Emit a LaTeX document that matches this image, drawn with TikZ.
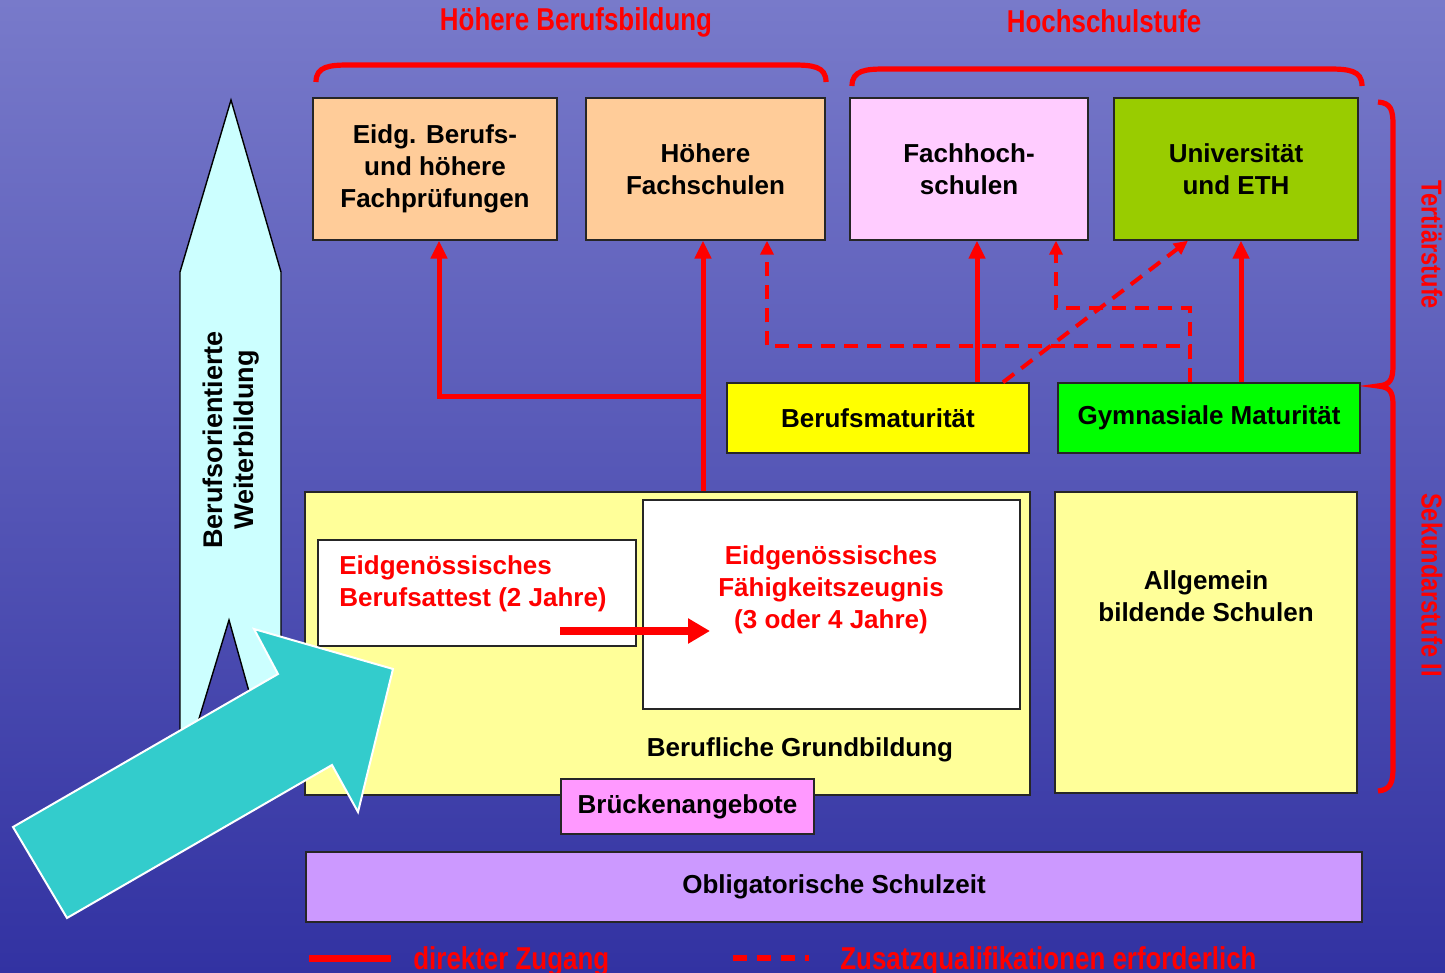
\documentclass[tikz,border=0pt]{standalone}
\usepackage{fontspec}
\setmainfont{Liberation Sans}
\usetikzlibrary{arrows.meta}
\definecolor{peach}{HTML}{FFCC99}
\definecolor{pinkbox}{HTML}{FFCCFF}
\definecolor{unigreen}{HTML}{99CC00}
\definecolor{bmyellow}{HTML}{FFFF00}
\definecolor{gmgreen}{HTML}{00FF00}
\definecolor{paleyellow}{HTML}{FFFF99}
\definecolor{bridgepink}{HTML}{FF99FF}
\definecolor{lilac}{HTML}{CC99FF}
\definecolor{palecyan}{HTML}{CCFFFF}
\definecolor{teal}{HTML}{33CCCC}
\definecolor{skytop}{RGB}{120,122,202}
\definecolor{skymid}{RGB}{76,78,184}
\definecolor{skybot}{RGB}{50,50,162}
\newcommand{\narrowtext}[1]{\scalebox{0.82}[1]{#1}}
\tikzset{box/.style = {shape=rectangle,draw=black!85,line width=0.7pt,inner sep=0pt,align=center,font=\bfseries\fontsize{13}{16}\selectfont}}
\tikzset{boxtext/.style = {align=center,inner sep=0pt,font=\bfseries\fontsize{13}{16}\selectfont}}
\tikzset{direct/.style = {draw=red,line width=2.5pt,-{Triangle[width=8pt,length=9pt]}}}
\tikzset{extra/.style = {draw=red,line width=2pt,dash pattern=on 7pt off 4.5pt,-{Triangle[width=6.5pt,length=7pt]}}}
\tikzset{bracket/.style = {draw=red,line width=2.6pt}}
\tikzset{redhead/.style = {text=red,inner sep=0pt,font=\bfseries\fontsize{15.8}{18}\selectfont}}

\begin{document}
\begin{tikzpicture}[x=0.5pt,y=-0.5pt]
                \useasboundingbox (0,0) rectangle (1445,973);
                \fill[top color=skytop,middle color=skymid,bottom color=skybot] (0,0) rectangle (1445,973);

                % Weiterbildung
                \draw[draw=black,line width=0.7pt,fill=palecyan] (231,100) -- (281,272) -- (281,745) -- (264,745) -- (229,620)
                    -- (191,745) -- (180,745) -- (180,272) -- cycle;
                \node[rotate=90,align=center,font=\bfseries\fontsize{13.5}{15.5}\selectfont] (wb) at (231,440) {Berufsorientierte\\Weiterbildung};

                % Tertiaerstufe
                \node[box,fill=peach,minimum width=122pt,minimum height=71pt] (ebp) at (435,169) {Eidg. Berufs-\\und h\"ohere\\Fachpr\"ufungen};
                \node[box,fill=peach,minimum width=119.5pt,minimum height=71pt] (hf) at (705.5,169) {H\"ohere\\Fachschulen};
                \node[box,fill=pinkbox,minimum width=119pt,minimum height=71pt] (fh) at (969,169) {Fachhoch-\\schulen};
                \node[box,fill=unigreen,minimum width=122pt,minimum height=71pt] (uni) at (1236,169) {Universit\"at\\und ETH};

                % Sekundarstufe II
                \node[box,fill=bmyellow,minimum width=151pt,minimum height=35pt] (bm) at (878,418) {Berufsmaturit\"at};
                \node[box,fill=gmgreen,minimum width=151pt,minimum height=35pt] (gm) at (1209,418) {Gymnasiale Maturit\"at};
                \node[box,fill=paleyellow,minimum width=362.5pt,minimum height=151.5pt] (bg) at (667.5,643.5) {};
                \node[boxtext] (bgtext) at (800,750) {Berufliche Grundbildung};
                \node[box,fill=paleyellow,minimum width=151pt,minimum height=150.5pt] (abs) at (1206,642.5) {};
                \node[boxtext] (abstext) at (1206,596) {Allgemein\\bildende Schulen};
                \node[box,fill=white,minimum width=159pt,minimum height=53pt] (eba) at (477,593) {};
                \node[boxtext,align=left,text=red,anchor=west] (ebatext) at (339,584) {Eidgen\"ossisches\\Berufsattest (2 Jahre)};
                \node[box,fill=white,minimum width=188.5pt,minimum height=104.5pt] (efz) at (831.5,604.5) {};
                \node[boxtext,text=red] (efztext) at (831,589.5) {Eidgen\"ossisches\\F\"ahigkeitszeugnis\\(3 oder 4 Jahre)};
                \node[box,fill=bridgepink,minimum width=126.5pt,minimum height=27.5pt] (bruecke) at (687.5,806.5) {Br\"uckenangebote};
                \node[box,fill=lilac,minimum width=528pt,minimum height=35pt] (obl) at (834,887) {Obligatorische Schulzeit};

                % Zugaenge
                \coordinate (junc) at (703,396);
                \draw[direct] ([xshift=-1.25pt]bg.north -| hf.south) -- ([xshift=-1.25pt]hf.south);
                \draw[direct] (junc) -| ([xshift=2pt]ebp.south);
                \draw[direct] ([xshift=4pt]fh.south |- bm.north) -- ([xshift=4pt]fh.south);
                \draw[direct] ([xshift=2.5pt]uni.south |- gm.north) -- ([xshift=2.5pt]uni.south);
                \draw[red,line width=4pt,-{Triangle[width=12pt,length=11pt]}] ([xshift=41.5pt,yshift=-19pt]eba.center) -- ([xshift=-60.75pt,yshift=-13.25pt]efz.center);

                \coordinate (hfin) at ([xshift=30.75pt]hf.south);
                \coordinate (fhin) at ([xshift=43.5pt]fh.south);
                \coordinate (gmout) at ([xshift=-9.5pt]gm.north);
                \coordinate (bmout) at ([xshift=62.5pt]bm.north);
                \coordinate (uniin) at ([xshift=-24pt]uni.south);
                \draw[extra] (gmout) -- (gmout |- 0,346) -| (hfin);
                \draw[extra] (gmout) -- (gmout |- 0,308) -| (fhin);
                \draw[extra] (bmout) -- (uniin);

                % Quereinstieg
                \draw[draw=white,line width=1pt,fill=teal] (13,827) -- (67,918) -- (332,765) -- (358,812) -- (393,669)
                    -- (254,629) -- (278,674) -- cycle;

                % Stufen
                \draw[bracket] (316,82) .. controls (316,66) and (330,65) .. (350,65) -- (792,65) .. controls (812,65) and (826,66) .. (826,82);
                \draw[bracket] (852,86) .. controls (852,70) and (866,69) .. (886,69) -- (1328,69) .. controls (1348,69) and (1362,70) .. (1362,86);
                \draw[bracket] (1378,102) .. controls (1391,103) and (1393,110) .. (1393,125) -- (1393,365)
                    .. controls (1393,380) and (1390,385) .. (1378,386) .. controls (1390,387) and (1393,392) .. (1393,405)
                    -- (1393,768) .. controls (1393,783) and (1390,790) .. (1378,791);
                \node[redhead] (hbb) at (576,22) {\narrowtext{H\"ohere Berufsbildung}};
                \node[redhead] (hss) at (1104,21) {\narrowtext{Hochschulstufe}};
                \node[redhead,rotate=-90,font=\bfseries\fontsize{14.4}{16}\selectfont] (ter) at (1432,245) {\narrowtext{Terti\"arstufe}};
                \node[redhead,rotate=-90,font=\bfseries\fontsize{14.4}{16}\selectfont] (sek) at (1432,585) {\narrowtext{Sekundarstufe II}};

                % Legende
                \node[redhead,anchor=base west] (lgdirect) at (413,969) {\narrowtext{direkter Zugang}};
                \node[redhead,anchor=base west] (lgextra) at (840,969) {\narrowtext{Zusatzqualifikationen erforderlich}};
                \coordinate (lga) at (309,958);
                \coordinate (lgb) at (733,958);
                \draw[red,line width=3.5pt] (lga) -- ++(82,0);
                \draw[red,line width=3pt,dash pattern=on 7pt off 5pt] (lgb) -- ++(76,0);
            \end{tikzpicture}
\end{document}
